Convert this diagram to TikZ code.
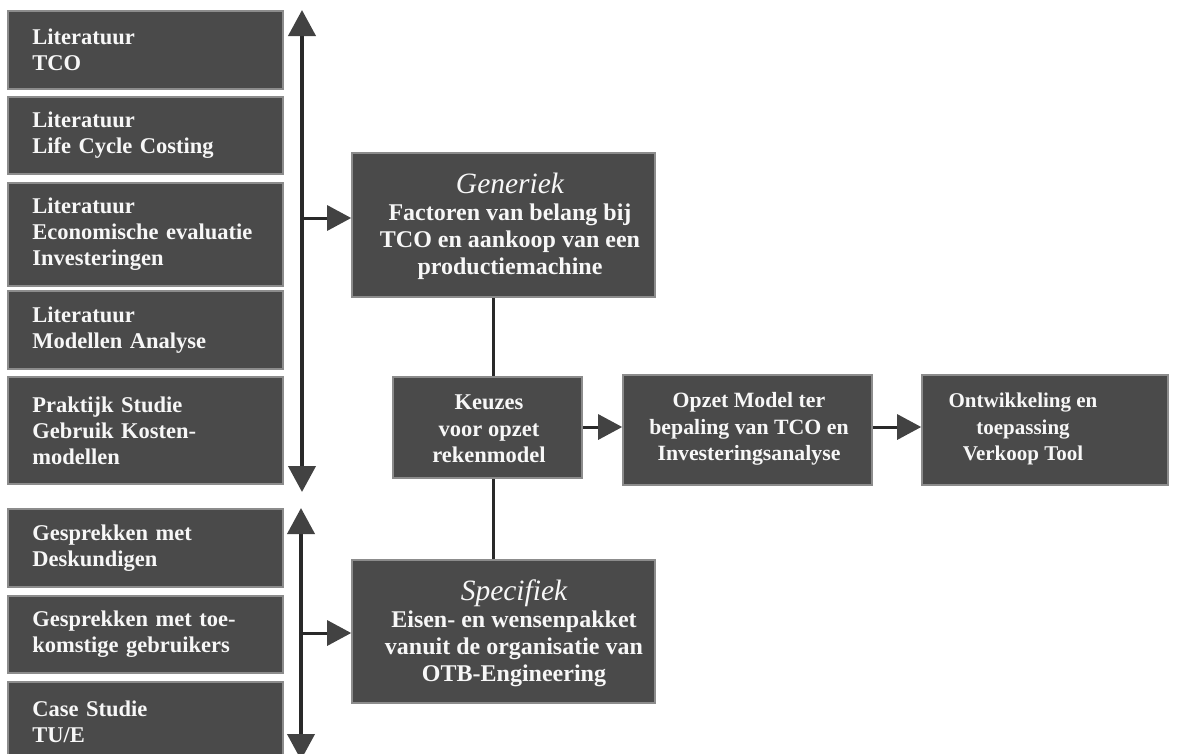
\documentclass[tikz,border=0pt]{standalone}
\usepackage{fontspec}
\setmainfont{Liberation Serif}
\usetikzlibrary{arrows.meta}

\definecolor{boxfill}{gray}{0.29}
\definecolor{boxrim}{gray}{0.55}
\definecolor{linecol}{gray}{0.16}
\definecolor{headcol}{gray}{0.26}
\definecolor{txtcol}{gray}{0.97}

\tikzset{
  % dark text blocks
  blockbox/.style={fill=boxfill, draw=boxrim, line width=1.6pt, inner sep=0pt},
  leftbox/.style={blockbox, anchor=north west, minimum width=275pt,
    text width=226pt, inner xsep=24.5pt, align=left, text=txtcol,
    font=\fontsize{22.5}{26}\selectfont\bfseries},
  midtext/.style={align=center, text=txtcol, inner sep=0pt,
    font=\fontsize{22.5}{26.5}\selectfont\bfseries},
  bigtext/.style={midtext, font=\fontsize{24}{27}\selectfont\bfseries},
  % connectors
  link/.style={draw=linecol, line width=3pt},
  hhead/.style={-{Triangle[length=24pt,width=25pt,fill=headcol,color=headcol]}},
  vboth/.style={{Triangle[length=26pt,width=27pt,fill=headcol,color=headcol]}-{Triangle[length=26pt,width=27pt,fill=headcol,color=headcol]}},
}

\begin{document}
\begin{tikzpicture}[x=1pt,y=-1pt]
\useasboundingbox (0,0) rectangle (1177,753);
\clip (0,0) rectangle (1177,753);

% source boxes on the left
\node[leftbox, minimum height=78pt]  (l1) at (7,10)  {Literatuur\\TCO};
\node[leftbox, minimum height=77pt]  (l2) at (7,96)  {Literatuur\\Life Cycle Costing};
\node[leftbox, minimum height=103pt] (l3) at (7,182) {Literatuur\\Economische evaluatie\\Investeringen};
\node[leftbox, minimum height=78pt]  (l4) at (7,290) {Literatuur\\Modellen Analyse};
\node[leftbox, minimum height=107pt] (l5) at (7,376) {Praktijk Studie\\Gebruik Kosten-\\modellen};
\node[leftbox, minimum height=78pt]  (l6) at (7,508) {Gesprekken met\\Deskundigen};
\node[leftbox, minimum height=77pt]  (l7) at (7,595) {Gesprekken met toe-\\komstige gebruikers};
\node[leftbox, minimum height=80pt]  (l8) at (7,681) {Case Studie\\TU/E};

% central and right boxes
\node[blockbox, minimum width=303pt, minimum height=144pt] (gen) at (503.5,225) {};
\node[blockbox, minimum width=189pt, minimum height=101pt] (keu) at (487.5,427.5) {};
\node[blockbox, minimum width=249pt, minimum height=110pt] (opz) at (747.5,430) {};
\node[blockbox, minimum width=246pt, minimum height=110pt] (ont) at (1045,430) {};
\node[blockbox, minimum width=303pt, minimum height=143pt] (spe) at (503.5,631.5) {};

% their texts
\node[bigtext] (gen-t) at (510,226) {{\fontsize{29.5}{31}\selectfont\mdseries\itshape Generiek}\\Factoren van belang bij\\TCO en aankoop van een\\productiemachine};
\node[midtext] (keu-t) at (489,429) {Keuzes\\voor opzet\\rekenmodel};
\node[midtext, font=\fontsize{21.8}{26.5}\selectfont\bfseries] (opz-t) at (749,429) {Opzet Model ter\\bepaling van TCO en\\Investeringsanalyse};
\node[midtext, font=\fontsize{21}{26.5}\selectfont\bfseries] (ont-t) at (1023,429) {Ontwikkeling en\\toepassing\\Verkoop Tool};
\node[bigtext] (spe-t) at (514,633) {{\fontsize{29.5}{31}\selectfont\mdseries\itshape Specifiek}\\Eisen- en wensenpakket\\vanuit de organisatie van\\OTB-Engineering};

% collecting arrows beside the source boxes
\coordinate (v1a) at (302,10);
\coordinate (v1b) at (302,492);
\coordinate (v2a) at (301,508);
\coordinate (v2b) at (301,760);
\draw[link, line width=4pt, vboth] (v1a) -- (v1b);
\draw[link, line width=4pt, vboth] (v2a) -- (v2b);

\coordinate (g1) at (302,218);
\coordinate (s1) at (301,633);
\draw[link, hhead] (g1) -- (gen.west |- g1);
\draw[link, hhead] (s1) -- (spe.west |- s1);

% vertical links through the choice box
\coordinate (vx) at (493,0);
\draw[link] (gen.south -| vx) -- (keu.north -| vx);
\draw[link] (keu.south -| vx) -- (spe.north -| vx);

% chain to the right
\coordinate (r1) at (0,427);
\draw[link, hhead] (keu.east |- r1) -- (opz.west |- r1);
\draw[link, hhead] (opz.east |- r1) -- (ont.west |- r1);
\end{tikzpicture}
\end{document}
